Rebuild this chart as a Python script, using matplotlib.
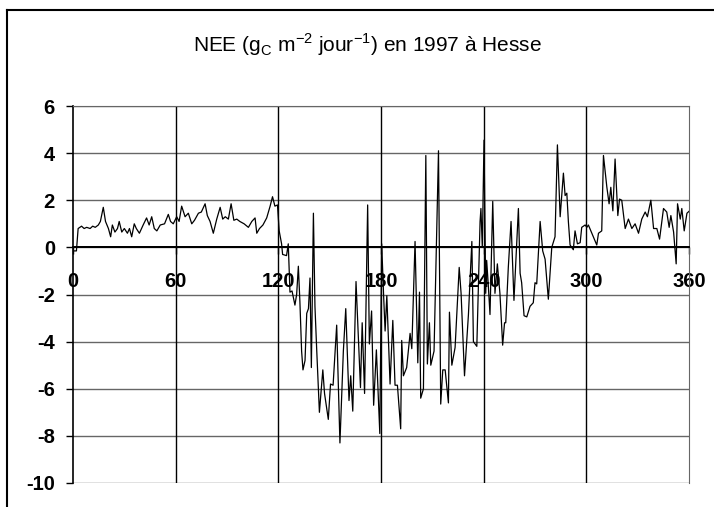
import matplotlib
matplotlib.use("Agg")
import matplotlib.pyplot as plt
from matplotlib.lines import Line2D

plt.rcParams['font.family'] = ['Liberation Sans', 'DejaVu Sans']
plt.rcParams['mathtext.fontset'] = 'custom'
plt.rcParams['mathtext.rm'] = 'Liberation Sans'
plt.rcParams['axes.unicode_minus'] = False

# jour de l'annee / NEE (gC m-2 jour-1)
days = [0, 2, 3, 5, 6.5, 8, 10, 11.5, 13, 14.8, 16, 17.7, 19, 20.7, 22, 23, 24.5, 26,
        27, 28.5, 30, 31.8, 33, 34.3, 35.8, 37, 38.8, 41, 43, 44.5, 46, 47.5, 49, 51,
        53.5, 55.7, 57, 58.6, 60.6, 62, 63.5, 65.5, 67.4, 69.4, 71, 73.3, 75, 77.2,
        78.5, 80.1, 82, 84, 86, 87.5, 89, 90.8, 92.4, 94, 95.7, 97.5, 100, 102.5,
        104.5, 106.4, 107.4, 109, 111, 113.2, 115.2, 116.6, 118, 119.5, 120.5, 121.9,
        122.5, 124.8, 125.8, 126.8, 128, 129.7, 130.7, 131.7, 132.6, 133.6, 134.4,
        135.6, 136.6, 137.6, 138.5, 139.3, 140.5, 141.4, 142.4, 144, 146, 147, 149.2,
        150.5, 152, 154.1, 156, 158, 159.4, 161.3, 162.3, 163.5, 165.4, 168, 169,
        170.4, 172.2, 173.2, 174.5, 175.7, 177.3, 179.3, 180.4, 181.5, 182.4, 183.4,
        185.3, 186.9, 188.2, 189.6, 191.5, 192.1, 193.1, 195, 197, 198, 199.9, 201.5,
        202.5, 203.2, 204.8, 206.2, 207.1, 208.3, 209.1, 211, 213.6, 214.9, 216.1,
        217.5, 219.4, 220, 221.4, 223.3, 225.7, 226.8, 228.8, 231.1, 233.1, 234,
        236, 237.9, 238.4, 239.2, 240.2, 241.2, 241.75, 242.7, 243.7, 245.3, 246.6,
        248, 249.5, 251.1, 252.2, 252.9, 254.4, 256, 257.7, 260.3, 261.3, 262.2,
        263.6, 265.2, 267.1, 269, 270, 271, 273, 274.5, 275.9, 277.8, 279.8, 281.7,
        283.1, 284.7, 286.6, 287.6, 288.6, 289.5, 290.5, 292.4, 293.4, 294.8, 296.4,
        297.3, 299.3, 300.3, 301.2, 303.2, 306.1, 307.1, 309, 310, 312, 313.3, 314.3,
        315.5, 316.8, 318.4, 319.4, 320.7, 322.7, 324.6, 326.6, 328.5, 330.5, 332.4,
        334.4, 335.7, 337.7, 339.3, 341.2, 342.8, 345.1, 347, 348.4, 349.4, 351,
        352.5, 353.3, 354.9, 355.8, 357.2, 358.8, 360.3, 361]
nee = [-0.15, -0.15, 0.8, 0.9, 0.8, 0.85, 0.8, 0.9, 0.85, 0.95, 1.1, 1.7, 1.1, 0.8,
       0.45, 0.95, 0.65, 0.8, 1.1, 0.65, 0.8, 0.6, 0.8, 0.45, 1.0, 0.8, 0.6, 0.95,
       1.25, 0.95, 1.3, 0.8, 0.7, 0.95, 1.0, 1.4, 1.1, 1.0, 1.3, 1.1, 1.75, 1.3, 1.45,
       1.0, 1.15, 1.45, 1.5, 1.85, 1.35, 1.1, 0.6, 1.2, 1.7, 1.2, 1.3, 1.2, 1.85,
       1.15, 1.2, 1.1, 1.0, 0.85, 1.1, 1.25, 0.6, 0.8, 0.95, 1.25, 1.75, 2.15, 1.75,
       1.8, 0.7, 0.15, -0.3, -0.35, 0.15, -1.9, -1.85, -2.45, -2.0, -0.8, -2.3, -4.4,
       -5.2, -4.8, -2.8, -2.6, -1.3, -5.1, 1.45, -2.5, -4.3, -7.0, -5.2, -6.2, -7.3,
       -5.8, -5.85, -3.3, -8.3, -4.4, -2.6, -6.5, -5.45, -6.95, -1.45, -5.95, -3.2,
       -6.2, 1.8, -4.1, -2.7, -6.7, -4.35, -7.9, 0.15, -2.0, -3.55, -2.05, -5.8,
       -3.1, -5.85, -5.85, -7.7, -3.95, -5.45, -5.1, -3.65, -4.3, 0.25, -4.9, -1.9,
       -6.4, -6.0, 3.9, -4.95, -3.2, -5.0, -4.4, 4.1, -6.65, -5.2, -5.2, -6.6, -2.75,
       -5.0, -4.25, -0.85, -1.95, -5.45, -2.85, 0.25, -4.0, -4.2, 1.1, 1.65, 0.0,
       4.55, -1.95, -0.55, -1.6, -2.85, 1.95, -1.95, -0.7, -1.95, -4.15, -3.2, -3.2,
       -0.85, 1.1, -2.25, 1.65, -1.1, -1.5, -2.9, -2.95, -2.5, -2.35, -1.5, -1.55,
       1.1, -0.15, -0.5, -2.2, 0.0, 0.45, 4.35, 1.3, 3.15, 2.2, 2.3, 1.1, 0.1, -0.1,
       0.7, 0.15, 0.2, 0.85, 0.95, 0.85, 0.95, 0.6, 0.1, 0.6, 0.7, 3.9, 2.55, 1.85,
       2.55, 1.55, 3.75, 1.35, 2.05, 2.0, 0.8, 1.2, 0.8, 1.0, 0.6, 1.2, 1.5, 1.3, 2.0,
       0.8, 0.8, 0.35, 1.65, 1.5, 0.85, 1.35, 0.65, -0.7, 1.85, 1.2, 1.65, 0.7, 1.45,
       1.55, 1.15]

xticks = [0, 60, 120, 180, 240, 300, 360]
yticks = [-10, -8, -6, -4, -2, 0, 2, 4, 6]

fig = plt.figure(figsize=(7.14, 5.07), dpi=100)
ax = fig.add_axes([73/714, 1 - 483/507, 616/714, 377/507])

ax.plot(days, nee, color='black', lw=0.9, zorder=3)

ax.set_xlim(0, 360)
ax.set_ylim(-10, 6)
ax.set_xticks(xticks)
ax.set_yticks(yticks)

for y in yticks:
    ax.axhline(y, color='#666666', lw=1.0, zorder=1)
for x in xticks[1:-1]:
    ax.axvline(x, color='black', lw=1.0, zorder=1)
ax.axhline(0, color='black', lw=1.4, zorder=2)

ax.spines['bottom'].set_position(('data', 0))
ax.spines['bottom'].set_linewidth(1.4)
ax.spines['left'].set_linewidth(1.2)
ax.spines['top'].set_color('#666666')
ax.spines['right'].set_color('#666666')

ax.tick_params(axis='x', direction='out', length=5, width=1, pad=13,
               labelsize=14.5)
ax.tick_params(axis='y', direction='out', length=5, width=1, pad=8,
               labelsize=14.5)
for lab in ax.get_xticklabels() + ax.get_yticklabels():
    lab.set_fontweight('bold')

fig.text(368/714, 1 - 45/507,
         r'NEE (g$_\mathregular{C}$ m$^\mathregular{-2}$ jour$^\mathregular{-1}$) en 1997 à Hesse',
         ha='center', va='center', fontsize=15)

# cadre du graphique
fig.add_artist(Line2D([7/714, 7/714], [0, 1 - 10/507], color='black', lw=1.5,
                      transform=fig.transFigure))
fig.add_artist(Line2D([7/714, 1], [1 - 10/507, 1 - 10/507], color='black', lw=1.5,
                      transform=fig.transFigure))

fig.savefig('out.png', dpi=100)
